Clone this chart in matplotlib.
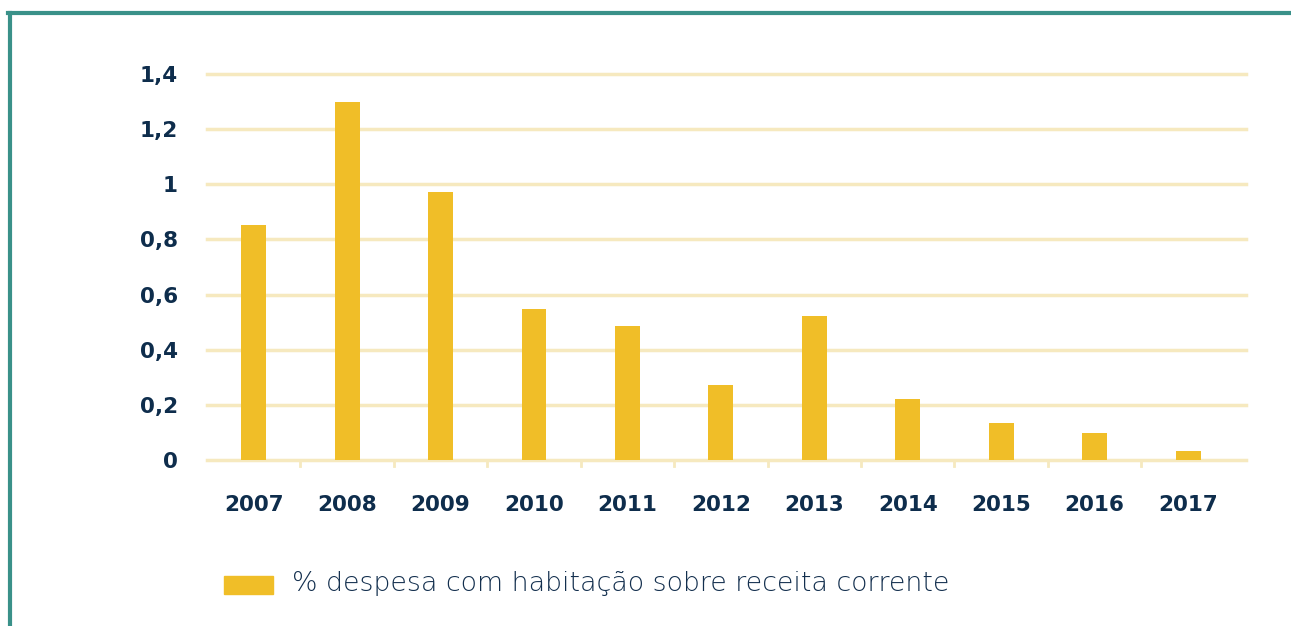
import matplotlib.pyplot as plt
from matplotlib.lines import Line2D

# data
years = ["2007", "2008", "2009", "2010", "2011", "2012",
         "2013", "2014", "2015", "2016", "2017"]
values = [0.852, 1.298, 0.972, 0.548, 0.486, 0.272,
          0.522, 0.221, 0.134, 0.098, 0.033]
yticks = [0, 0.2, 0.4, 0.6, 0.8, 1.0, 1.2, 1.4]
ytick_labels = ["0", "0,2", "0,4", "0,6", "0,8", "1", "1,2", "1,4"]
legend_label = "% despesa com habitação sobre receita corrente"

bar_color = "#f0be28"
grid_color = "#f6e9bf"
text_color = "#0e2d4c"
frame_color = "#3a9189"

W, H = 1291, 626
fig = plt.figure(figsize=(W / 100, H / 100), dpi=100)
fig.patch.set_facecolor("white")

ax = fig.add_axes([207 / W, 1 - 460 / H, (1246 - 207) / W, (460 - 74) / H])
x = range(len(years))
ax.bar(x, values, width=0.267, color=bar_color, zorder=3)

ax.set_xlim(-0.5, 10.62)
ax.set_ylim(0, 1.4)
ax.set_yticks(yticks)
ax.set_yticklabels(ytick_labels)
ax.set_xticks(list(x))
ax.set_xticklabels(years)

for v in yticks:
    ax.axhline(v, color=grid_color, lw=2.5, zorder=1, clip_on=False)

# small separators between categories below the baseline
for i in range(1, len(years)):
    ax.add_line(Line2D([i - 0.5, i - 0.5], [-0.02, 0.0], color=grid_color,
                       lw=2, clip_on=False, zorder=1))

for s in ax.spines.values():
    s.set_visible(False)
ax.tick_params(axis="both", length=0, colors=text_color)
ax.tick_params(axis="y", pad=21)
ax.tick_params(axis="x", pad=25)
for lab in ax.get_xticklabels() + ax.get_yticklabels():
    lab.set_fontfamily("DejaVu Sans")
    lab.set_fontweight("bold")
    lab.set_fontsize(15.5)
    lab.set_color(text_color)

# legend
fig.patches.append(plt.Rectangle((224 / W, 1 - 594 / H), 49 / W, 18 / H,
                                 transform=fig.transFigure, color=bar_color))
fig.text(292 / W, 1 - 584 / H, legend_label, fontsize=19.3, family="DejaVu Sans",
         fontweight="light", color="#132f4e", va="center", ha="left")

# teal frame (top and left edges)
fig.add_artist(Line2D([9.5 / W, 9.5 / W], [0, 1 - 12.5 / H],
                      transform=fig.transFigure, color=frame_color, lw=3))
fig.add_artist(Line2D([8 / W, 1], [1 - 12.5 / H, 1 - 12.5 / H],
                      transform=fig.transFigure, color=frame_color, lw=3))

fig.savefig("out.png", dpi=100)
